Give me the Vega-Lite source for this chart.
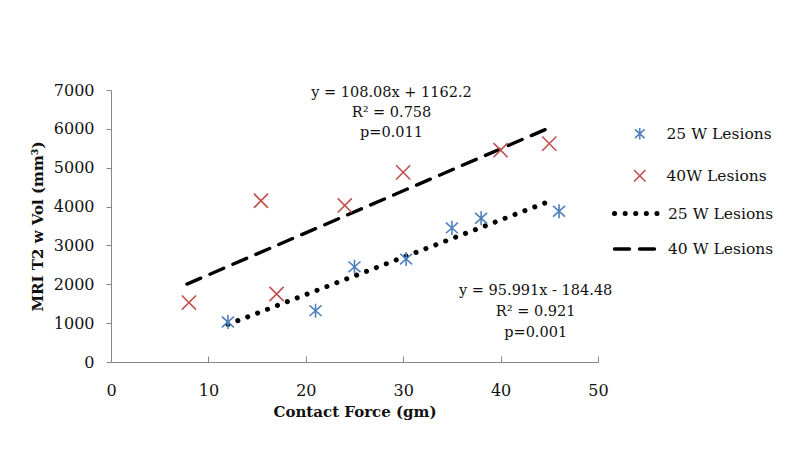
{
  "$schema": "https://vega.github.io/schema/vega-lite/v6.json",
  "autosize": {"type": "none"},
  "width": 487,
  "height": 272,
  "padding": {"left": 111, "top": 90, "right": 202, "bottom": 95},
  "background": "white",
  "config": {
    "view": {"stroke": null},
    "font": "DejaVu Serif",
    "axis": {
      "grid": false,
      "domainColor": "#878787",
      "tickColor": "#878787",
      "labelFont": "DejaVu Serif",
      "labelFontSize": 16,
      "labelColor": "#111111",
      "labelOverlap": false,
      "labelFlush": false,
      "labelBound": false,
      "titleFont": "DejaVu Serif",
      "titleFontSize": 15,
      "titleFontWeight": "bold",
      "titleColor": "#111111"
    },
    "legend": {
      "labelFont": "DejaVu Serif",
      "labelFontSize": 15.5,
      "labelColor": "#111111"
    }
  },
  "encoding": {
    "x": {
      "field": "force", "type": "quantitative",
      "scale": {"domain": [0, 50], "nice": false},
      "axis": {"values": [0, 10, 20, 30, 40, 50], "format": "d", "tickSize": -6, "labelPadding": 26, "title": "Contact Force (gm)", "titlePadding": 6}
    },
    "y": {
      "field": "vol", "type": "quantitative",
      "scale": {"domain": [0, 7000], "nice": false},
      "axis": {"values": [0, 1000, 2000, 3000, 4000, 5000, 6000, 7000], "format": "d", "tickSize": 5, "labelPadding": 12, "title": "MRI T2 w Vol (mm³)", "titlePadding": 8}
    }
  },
  "layer": [
    {
      "data": {
        "values": [
          {"trend": "25 W Lesions", "force": 12, "vol": 967},
          {"trend": "25 W Lesions", "force": 45.3, "vol": 4164},
          {"trend": "40 W Lesions", "force": 7.8, "vol": 2005},
          {"trend": "40 W Lesions", "force": 45, "vol": 6026}
        ]
      },
      "mark": {"type": "line", "color": "black", "strokeCap": "round"},
      "encoding": {
        "strokeWidth": {
          "field": "trend", "type": "nominal",
          "scale": {"domain": ["25 W Lesions", "40 W Lesions"], "range": [5, 3.4]},
          "legend": null
        },
        "strokeDash": {
          "field": "trend", "type": "nominal",
          "scale": {"domain": ["25 W Lesions", "40 W Lesions"], "range": [[0.1, 10.5], [15, 10]]},
          "legend": {
            "title": null, "orient": "none", "legendX": 501, "legendY": 98,
            "symbolType": "stroke", "symbolSize": 2116, "symbolStrokeWidth": 4.2,
            "symbolStrokeColor": "black", "labelOffset": 5, "rowPadding": -10, "padding": 0,
            "encode": {"symbols": {"update": {"strokeCap": {"value": "round"}}}}
          }
        }
      }
    },
    {
      "data": {
        "values": [
          {"series": "25 W Lesions", "force": 12, "vol": 1030},
          {"series": "25 W Lesions", "force": 21, "vol": 1320},
          {"series": "25 W Lesions", "force": 25, "vol": 2450},
          {"series": "25 W Lesions", "force": 30.3, "vol": 2650},
          {"series": "25 W Lesions", "force": 35, "vol": 3450},
          {"series": "25 W Lesions", "force": 38, "vol": 3700},
          {"series": "25 W Lesions", "force": 46, "vol": 3880},
          {"series": "40W Lesions", "force": 8, "vol": 1530},
          {"series": "40W Lesions", "force": 15.4, "vol": 4150},
          {"series": "40W Lesions", "force": 17, "vol": 1750},
          {"series": "40W Lesions", "force": 24, "vol": 4030},
          {"series": "40W Lesions", "force": 30, "vol": 4880},
          {"series": "40W Lesions", "force": 40, "vol": 5450},
          {"series": "40W Lesions", "force": 45, "vol": 5620}
        ]
      },
      "mark": {"type": "point", "filled": false, "strokeWidth": 1.6, "size": 200, "opacity": 1},
      "encoding": {
        "color": {
          "field": "series", "type": "nominal",
          "scale": {"domain": ["25 W Lesions", "40W Lesions"], "range": ["#4F81BD", "#C0504D"]},
          "legend": {
            "title": null, "orient": "none", "legendX": 521, "legendY": 36,
            "symbolSize": 130, "labelOffset": 19, "rowPadding": 23, "padding": 0, "symbolStrokeWidth": 1.6
          }
        },
        "shape": {
          "field": "series", "type": "nominal",
          "scale": {"domain": ["25 W Lesions", "40W Lesions"], "range": ["M0,-1L0,1M-0.85,-0.75L0.85,0.75M-0.85,0.75L0.85,-0.75", "M-1,-1L1,1M-1,1L1,-1"]},
          "legend": {
            "title": null, "orient": "none", "legendX": 521, "legendY": 36,
            "symbolSize": 130, "labelOffset": 19, "rowPadding": 23, "padding": 0, "symbolStrokeWidth": 1.6
          }
        }
      }
    },
    {
      "data": {
        "values": [
          {"force": 28.8, "vol": 6922, "label": "y = 108.08x + 1162.2"},
          {"force": 28.8, "vol": 6408, "label": "R² = 0.758"},
          {"force": 28.8, "vol": 5893, "label": "p=0.011"},
          {"force": 43.6, "vol": 1827, "label": "y = 95.991x - 184.48"},
          {"force": 43.6, "vol": 1287, "label": "R² = 0.921"},
          {"force": 43.6, "vol": 746, "label": "p=0.001"}
        ]
      },
      "mark": {"type": "text", "font": "DejaVu Serif", "fontSize": 14.5, "align": "center", "baseline": "middle", "color": "#111111"},
      "encoding": {
        "text": {"field": "label"}
      }
    }
  ]
}
